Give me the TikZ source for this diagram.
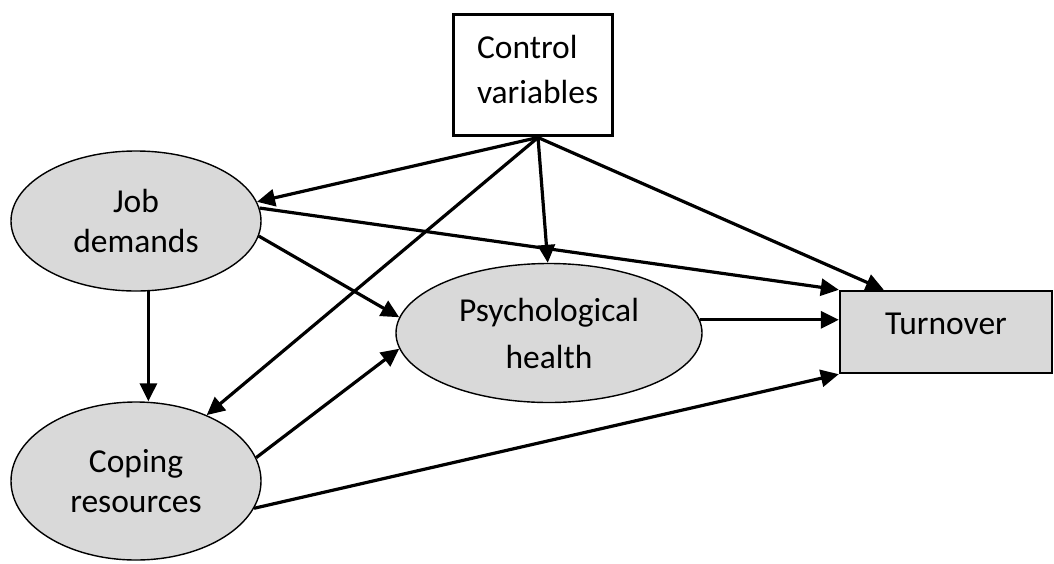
\documentclass[tikz,border=0pt]{standalone}
\usepackage{fontspec}
\setmainfont{Carlito}
\usetikzlibrary{arrows.meta,shapes.geometric,calc}
\definecolor{boxgray}{HTML}{D9D9D9}
\tikzset{
  latent/.style={ellipse, draw=black, line width=1.4pt, fill=boxgray, inner sep=0pt, align=center,
    font=\fontsize{33.5}{40}\selectfont},
  ctrlbox/.style={rectangle, draw=black, line width=3pt, fill=white, inner sep=0pt,
    font=\fontsize{33.5}{45}\selectfont},
  outbox/.style={rectangle, draw=black, line width=2.4pt, fill=boxgray, inner sep=0pt,
    font=\fontsize{33.5}{40}\selectfont},
  path/.style={line width=3.2pt, -{Triangle[length=18pt,width=17pt]}}
}
\begin{document}
\begin{tikzpicture}[x=1pt,y=-1pt]
\useasboundingbox (0,0) rectangle (1054,563);
% nodes
\node[ctrlbox, minimum width=159pt, text width=111pt, text height=44pt, text depth=77pt] (ctrl) at (532.5,74.5)
  {\begin{tabular}[t]{@{}l@{}}Control\\variables\end{tabular}};
\node[latent, minimum width=250pt, minimum height=140pt] (jd) at (136,221) {Job\\demands};
\node[latent, minimum width=250pt, minimum height=158pt] (cp) at (136,481) {Coping\\resources};
\node[latent, minimum width=306pt, minimum height=139pt, font=\fontsize{33.5}{47}\selectfont] (ps) at (549,333) {Psychological\\health};
\node[outbox, minimum width=212pt, minimum height=82pt, text height=21pt, text depth=17pt] (to) at (946,332) {Turnover};
% connectors
\coordinate (cv) at ($(ctrl.south)+(5.5,1)$);
\draw[path] (cv) -- (jd.9);
\draw[path] (cv) -- (cp.43);
\draw[path] (cv) -- (ps.91);
\draw[path] (cv) -- ($(to.north west)+(45,0)$);
\draw[path] (jd.6) -- (to.north west);
\draw[path] (jd.-7) -- (ps.174);
\draw[path] (jd.-80) -- (jd.-80 |- cp.north);
\draw[path] (cp.11) -- (ps.186);
\draw[path] (ps.5) -- (ps.5 -| to.west);
\draw[path] (cp.-13) -- (to.south west);
\end{tikzpicture}
\end{document}
